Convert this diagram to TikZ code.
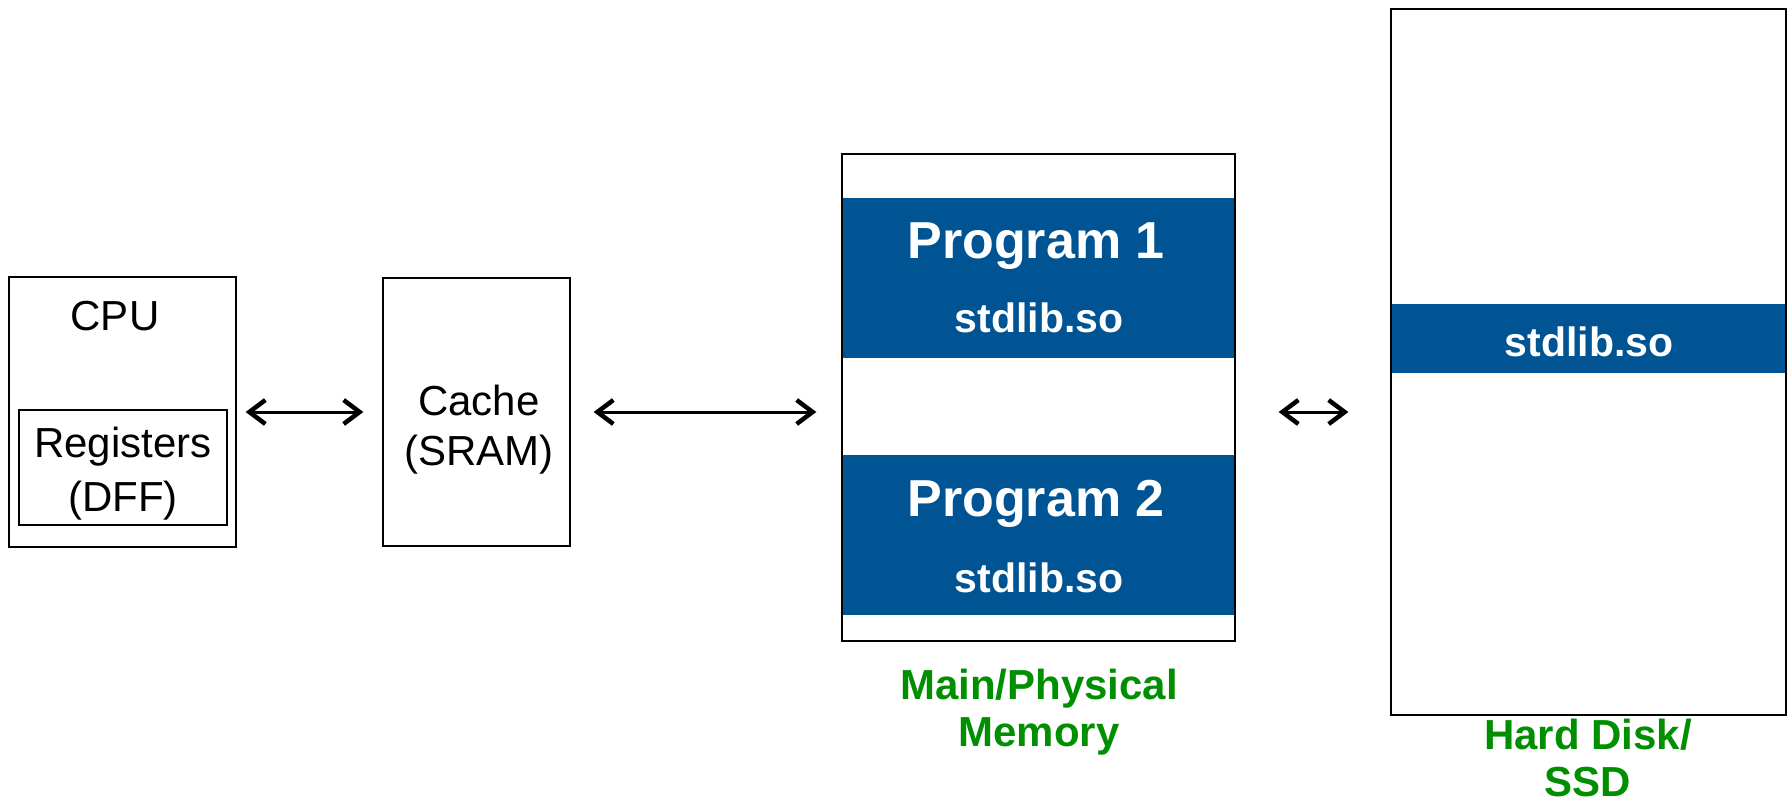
\documentclass[tikz,border=0pt]{standalone}
\usepackage{fontspec}
\setmainfont{Liberation Sans}
\usepackage{tikz}
\usetikzlibrary{arrows.meta}
\definecolor{bandblue}{RGB}{1,84,147}
\definecolor{labelgreen}{RGB}{0,143,0}

\begin{document}
\begin{tikzpicture}[x=1pt, y=-1pt,
    box/.style={draw, line width=1.2pt, inner sep=0pt},
    band/.style={fill=bandblue, inner sep=0pt, minimum width=#1},
    link/.style={{Straight Barb[length=16pt,width=24pt,line width=4.5pt]}-{Straight Barb[length=16pt,width=24pt,line width=4.5pt]},
        line width=3pt},
    plain/.style={font=\fontsize{42}{50}\selectfont, align=center, inner sep=0pt},
    white/.style={font=\bfseries\fontsize{#1}{#1}\selectfont, text=white, inner sep=0pt, anchor=base},
    green/.style={font=\bfseries\fontsize{42}{47}\selectfont, text=labelgreen, align=center, inner sep=0pt}]
\useasboundingbox (0,0) rectangle (1789,797);

\node [box, minimum width=227pt, minimum height=270pt] (cpu) at (122.5,412) {};
\node [plain, anchor=base] (cpuname) at (115,330) {CPU};
\node [box, minimum width=208pt, minimum height=115pt] (regs) at (123,467.5) {};
\node [plain] (regsname) at (123,474) {Registers\\[4pt](DFF)};
\node [box, minimum width=187pt, minimum height=268pt] (cache) at (476.5,412) {};
\node [plain] (cachename) at (479,430) {Cache\\(SRAM)};

\node [band=393pt, minimum height=160pt] (prog1) at (1038.5,278) {};
\node [band=393pt, minimum height=160pt] (prog2) at (1038.5,535) {};
\node [box, minimum width=393pt, minimum height=487pt] (mem) at (1038.5,397.5) {};
\node [white=52] (prog1name) at (1036,258) {Program 1};
\node [white=41] (prog1lib) at (1039,332) {stdlib.so};
\node [white=52] (prog2name) at (1036,516) {Program 2};
\node [white=41] (prog2lib) at (1039,592) {stdlib.so};
\node [green] (memname) at (1039,712) {Main/Physical\\Memory};

\node [band=395pt, minimum height=69pt] (disklib) at (1588.5,338.5) {};
\node [box, minimum width=395pt, minimum height=706pt] (disk) at (1588.5,362) {};
\node [white=41] (disklibname) at (1589,356) {stdlib.so};
\node [green] (diskname) at (1588,758) {Hard Disk/\\SSD};

\draw [link, shorten <=9pt, shorten >=19pt] (cpu.east) -- (cache.west);
\draw [link, shorten <=23pt, shorten >=25pt] (cache.east) -- (cache.east -| mem.west);
\draw [link, shorten <=43pt, shorten >=42pt] (mem.east |- cpu.east) -- (cpu.east -| disk.west);
\end{tikzpicture}
\end{document}
